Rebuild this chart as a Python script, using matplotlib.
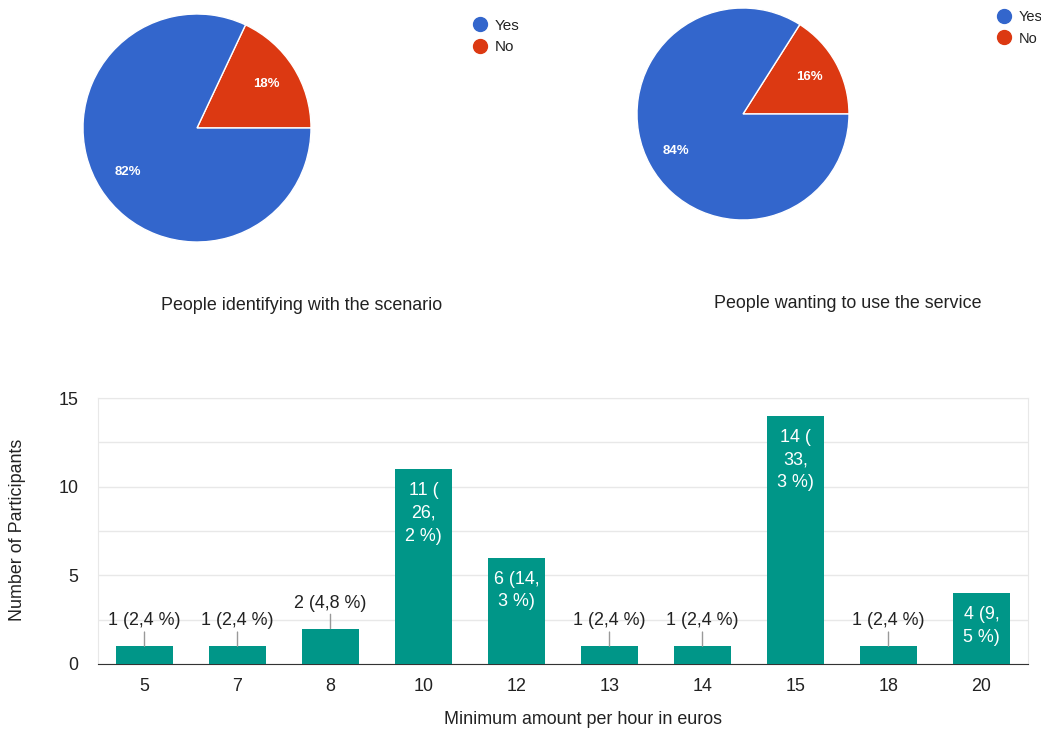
import matplotlib.pyplot as plt
from matplotlib.lines import Line2D

plt.rcParams['font.family'] = ['Liberation Sans', 'DejaVu Sans']

# pie data
pie_labels = ['No', 'Yes']
scenario_pct = [18, 82]
service_pct = [16, 84]
pie_titles = ['People identifying with the scenario', 'People wanting to use the service']

# bar data
amounts = ['5', '7', '8', '10', '12', '13', '14', '15', '18', '20']
participants = [1, 1, 2, 11, 6, 1, 1, 14, 1, 4]
bar_labels = ['1 (2,4 %)', '1 (2,4 %)', '2 (4,8 %)', '11 (\n26,\n2 %)', '6 (14,\n3 %)',
              '1 (2,4 %)', '1 (2,4 %)', '14 (\n33,\n3 %)', '1 (2,4 %)', '4 (9,\n5 %)']

BLUE = '#3366cc'
RED = '#dc3912'
TEAL = '#009688'
FS = 12.9

W, H = 1041, 733
fig = plt.figure(figsize=(W / 100, H / 100), dpi=100)


def px_axes(left, top, width, height):
    return fig.add_axes([left / W, 1 - (top + height) / H, width / W, height / H])


def draw_pie(cx, cy, r, values, title, tx, ty, lx, ly, lfs):
    ax = px_axes(cx - r, cy - r, 2 * r, 2 * r)
    ax.pie(values, colors=[RED, BLUE], startangle=0, counterclock=True,
           autopct='%.0f%%', pctdistance=0.72,
           wedgeprops=dict(edgecolor='white', linewidth=1),
           textprops=dict(color='white', fontsize=9.5, fontweight='bold'))
    ax.set_xlim(-1, 1)
    ax.set_ylim(-1, 1)
    fig.text(tx / W, 1 - ty / H, title, ha='center', va='center', fontsize=FS, color='#222222')
    handles = [Line2D([], [], marker='o', linestyle='', markersize=10, color=c)
               for c in (BLUE, RED)]
    fig.legend(handles, ['Yes', 'No'], loc='upper left', bbox_to_anchor=(lx / W, 1 - ly / H),
               frameon=False, fontsize=lfs, handlelength=0.8, handletextpad=0.6,
               labelspacing=0.5, borderpad=0, labelcolor='#222222')


draw_pie(197, 128, 114, scenario_pct, pie_titles[0], 302, 305, 466, 11, 11)
draw_pie(743, 114, 106, service_pct, pie_titles[1], 848, 303, 991, 3, 10.5)

# bar chart
ax = px_axes(98, 398, 930, 266)
x = range(len(amounts))
bars = ax.bar(x, participants, width=0.62, color=TEAL, zorder=3)
ax.set_xlim(-0.5, len(amounts) - 0.5)
ax.set_ylim(0, 15)
ax.set_xticks(list(x))
ax.set_xticklabels(amounts)
ax.set_yticks([0, 5, 10, 15])
ax.set_yticks([2.5, 7.5, 12.5], minor=True)
ax.grid(axis='y', which='both', color='#e8e8e8', linewidth=1, zorder=0)
ax.tick_params(axis='both', which='both', length=0, labelsize=FS, colors='#222222')
ax.tick_params(axis='x', pad=10)
ax.tick_params(axis='y', pad=14)
for s in ('left', 'top', 'right'):
    ax.spines[s].set_color('#e8e8e8')
ax.spines['bottom'].set_color('#333333')

for b, v, lab in zip(bars, participants, bar_labels):
    xc = b.get_x() + b.get_width() / 2
    if v >= 4:
        ax.annotate(lab, xy=(xc, v), xytext=(0, -13), textcoords='offset pixels',
                    ha='center', va='top', color='white', fontsize=FS, linespacing=1.45,
                    zorder=4)
    else:
        ax.annotate(lab, xy=(xc, v), xytext=(0, 17), textcoords='offset pixels',
                    ha='center', va='bottom', color='#222222', fontsize=FS, zorder=4,
                    arrowprops=dict(arrowstyle='-', color='#999999', lw=1,
                                    shrinkA=0, shrinkB=0))

fig.text(583 / W, 1 - 720 / H, 'Minimum amount per hour in euros', ha='center', va='center',
         fontsize=FS, color='#222222')
fig.text(18 / W, 1 - 530 / H, 'Number of Participants', ha='center', va='center',
         rotation=90, fontsize=FS, color='#222222')

fig.savefig('out.png', dpi=100)
